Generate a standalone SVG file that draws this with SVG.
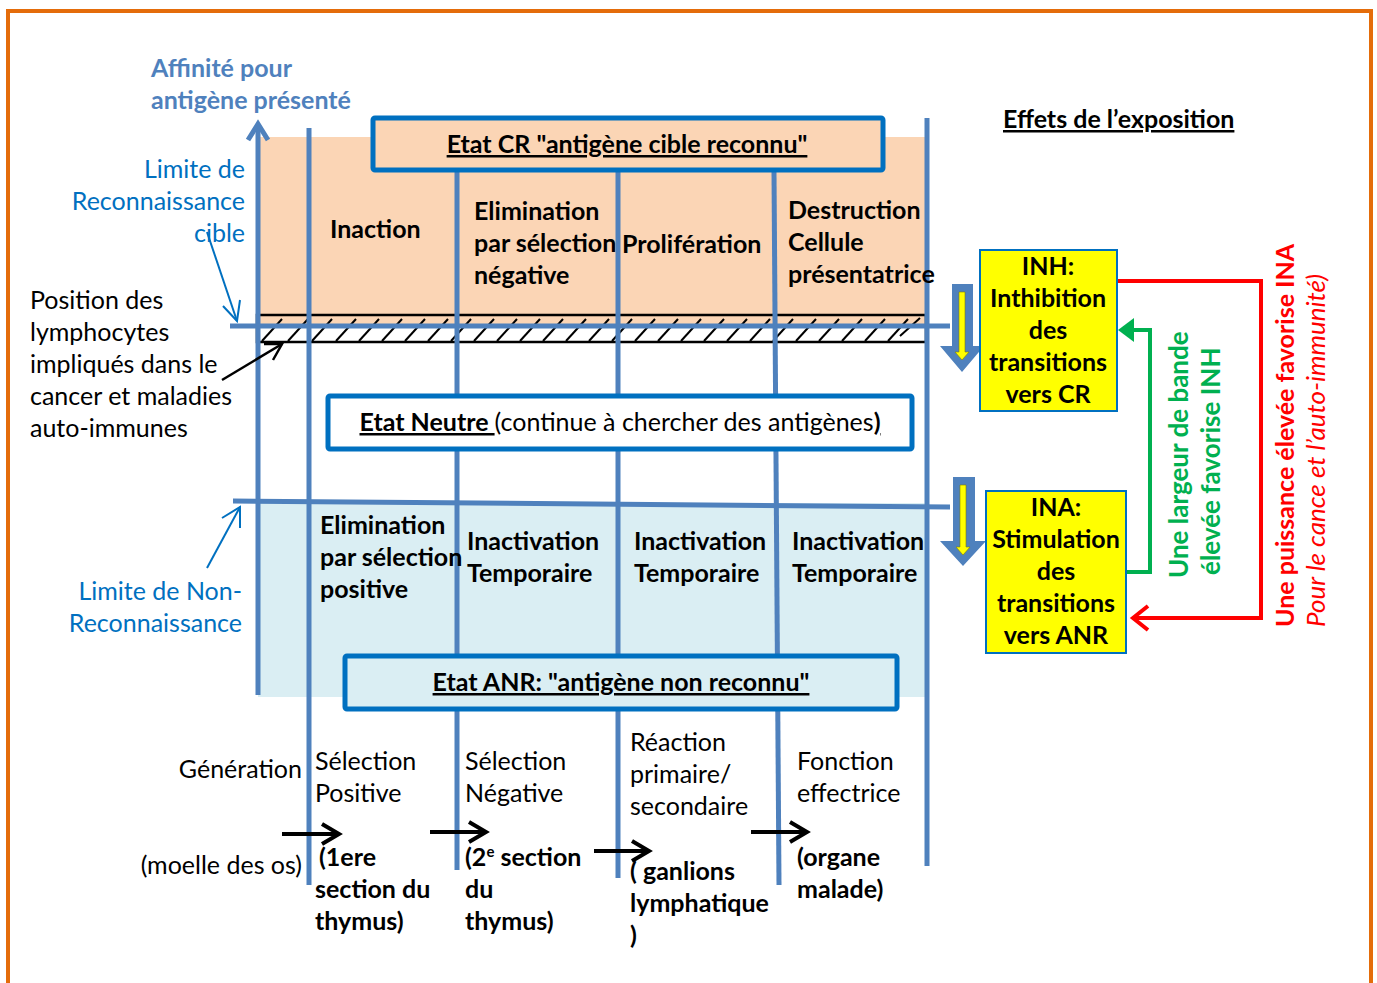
<svg xmlns="http://www.w3.org/2000/svg" width="1377" height="983" viewBox="0 0 1377 983">
<defs>
<style>
text{font-family:Lato,"Liberation Sans",sans-serif;}
.b{font-weight:bold;}
.lbl{font-size:25px;fill:#000;}
.ax{font-size:25px;fill:#0070C0;}
.vl{stroke:#4F81BD;stroke-width:5;fill:none;}
.box{stroke:#0070C0;stroke-width:5;}
.u{text-decoration:underline;}
.hatch line{stroke:#000;stroke-width:2;}
</style>
</defs>
<rect x="0" y="0" width="1377" height="983" fill="#fff"/>
<rect x="8" y="11" width="1363" height="990" fill="none" stroke="#E46C0A" stroke-width="4"/>

<!-- zones -->
<rect x="258" y="137" width="668" height="189" fill="#FBD5B5"/>
<rect x="258" y="503" width="668" height="194" fill="#DAEEF3"/>

<!-- hatched band -->
<g id="band">
<rect x="257" y="315" width="669" height="27" fill="none" stroke="#000" stroke-width="2.5"/>
<g class="hatch">
<line x1="262" y1="341" x2="282" y2="319"/><line x1="288" y1="341" x2="308" y2="319"/><line x1="312" y1="341" x2="332" y2="319"/><line x1="336" y1="341" x2="356" y2="319"/><line x1="359" y1="341" x2="379" y2="319"/><line x1="382" y1="341" x2="402" y2="319"/><line x1="405" y1="341" x2="425" y2="319"/><line x1="428" y1="341" x2="448" y2="319"/><line x1="451" y1="341" x2="471" y2="319"/><line x1="474" y1="341" x2="494" y2="319"/><line x1="497" y1="341" x2="517" y2="319"/><line x1="520" y1="341" x2="540" y2="319"/><line x1="543" y1="341" x2="563" y2="319"/><line x1="566" y1="341" x2="586" y2="319"/><line x1="589" y1="341" x2="609" y2="319"/><line x1="612" y1="341" x2="632" y2="319"/><line x1="635" y1="341" x2="655" y2="319"/><line x1="658" y1="341" x2="678" y2="319"/><line x1="681" y1="341" x2="701" y2="319"/><line x1="704" y1="341" x2="724" y2="319"/><line x1="727" y1="341" x2="747" y2="319"/><line x1="750" y1="341" x2="770" y2="319"/><line x1="773" y1="341" x2="793" y2="319"/><line x1="796" y1="341" x2="816" y2="319"/><line x1="819" y1="341" x2="839" y2="319"/><line x1="842" y1="341" x2="862" y2="319"/><line x1="865" y1="341" x2="885" y2="319"/><line x1="888" y1="341" x2="908" y2="319"/><line x1="900" y1="336" x2="920" y2="318"/>
</g>
</g>

<g id="connectors">
<line class="vl" x1="258" y1="695" x2="258" y2="124"/>
<polyline class="vl" points="248,140 258,124 268,140" stroke-linejoin="miter"/>
<line class="vl" x1="309" y1="128" x2="309" y2="885"/>
<line class="vl" x1="457" y1="172" x2="457" y2="870"/>
<line class="vl" x1="618" y1="172" x2="618" y2="878"/>
<line class="vl" x1="774" y1="172" x2="779" y2="885"/>
<line class="vl" x1="927" y1="118" x2="927" y2="866"/>
<line class="vl" x1="230" y1="326" x2="950" y2="326"/>
<line class="vl" x1="233" y1="501" x2="950" y2="507"/>

<g stroke="#0070C0" stroke-width="2" fill="none">
<line x1="207" y1="232" x2="237" y2="321"/>
<polyline points="223,306 237,321 240,300"/>
<line x1="207" y1="568" x2="240" y2="507"/>
<polyline points="222,518 240,507 240,528"/>
</g>
<g stroke="#000" stroke-width="2.5" fill="none">
<line x1="222" y1="380" x2="282" y2="344"/>
<polyline points="264,344 282,344 273,360"/>
</g>

<g stroke="#000" stroke-width="4" fill="none">
<line x1="282" y1="834" x2="338" y2="834"/><polyline points="322,824 339,834 322,844"/>
<line x1="430" y1="832" x2="485" y2="832"/><polyline points="469,822 486,832 469,842"/>
<line x1="594" y1="851" x2="648" y2="851"/><polyline points="632,841 649,851 632,861"/>
<line x1="751" y1="832" x2="806" y2="832"/><polyline points="790,822 807,832 790,842"/>
</g>

<polyline points="1126,572 1150,572 1150,330 1132,330" fill="none" stroke="#00B050" stroke-width="4"/>
<polygon points="1118,330 1134,318 1134,342" fill="#00B050"/>
<polyline points="1117,281 1261,281 1261,618 1134,618" fill="none" stroke="#FF0000" stroke-width="4"/>
<polyline points="1148,606 1133,618 1148,630" fill="none" stroke="#FF0000" stroke-width="4"/>
</g>

<g id="down1">
<polygon points="952,284 973,284 973,346 984,346 962,372 940,346 952,346" fill="#4F81BD"/>
<polygon points="959,292 965,292 965,352 969,352 962,360 955,352 959,352" fill="#FFFF00" stroke="#7F7F00" stroke-width="0.6"/>
</g>
<g id="down2">
<polygon points="953,477 975,477 975,541 986,541 963,566 940,541 953,541" fill="#4F81BD"/>
<polygon points="960,485 966,485 966,547 970,547 963,555 956,547 960,547" fill="#FFFF00" stroke="#7F7F00" stroke-width="0.6"/>
</g>

<g id="cr">
<rect class="box" x="373" y="118" width="510" height="52" rx="2" fill="#FBD5B5"/>
<text class="lbl b u" x="627" y="153" text-anchor="middle">Etat CR "antigène cible reconnu"</text>
</g>
<g id="neutre">
<rect class="box" x="328" y="396" width="584" height="53" rx="2" fill="#fff"/>
<text class="lbl" x="620" y="431" text-anchor="middle"><tspan class="b u">Etat Neutre </tspan>(continue à chercher des antigènes<tspan class="b u">)</tspan></text>
</g>
<g id="anr">
<rect class="box" x="345" y="656" width="552" height="53" rx="2" fill="#DAEEF3"/>
<text class="lbl b u" x="621" y="691" text-anchor="middle">Etat ANR: "antigène non reconnu"</text>
</g>

<g id="axis-label">
<text class="b" font-size="25" fill="#4F81BD" x="151" y="77">Affinité pour</text>
<text class="b" font-size="25" fill="#4F81BD" x="151" y="109">antigène présenté</text>
</g>
<g id="lim-cr">
<text class="ax" x="245" y="178" text-anchor="end">Limite de</text>
<text class="ax" x="245" y="210" text-anchor="end">Reconnaissance</text>
<text class="ax" x="245" y="242" text-anchor="end">cible</text>
</g>
<g id="lim-anr">
<text class="ax" x="242" y="600" text-anchor="end">Limite de Non-</text>
<text class="ax" x="242" y="632" text-anchor="end">Reconnaissance</text>
</g>
<g id="position">
<text class="lbl" x="30" y="309">Position des</text>
<text class="lbl" x="30" y="341">lymphocytes</text>
<text class="lbl" x="30" y="373">impliqués dans le</text>
<text class="lbl" x="30" y="405">cancer et maladies</text>
<text class="lbl" x="30" y="437">auto-immunes</text>
</g>

<g id="inaction"><text class="lbl b" x="330" y="238">Inaction</text></g>
<g id="elim-neg">
<text class="lbl b" x="474" y="220">Elimination</text>
<text class="lbl b" x="474" y="252">par sélection</text>
<text class="lbl b" x="474" y="284">négative</text>
</g>
<g id="prolif"><text class="lbl b" x="622" y="253">Prolifération</text></g>
<g id="destr">
<text class="lbl b" x="788" y="219">Destruction</text>
<text class="lbl b" x="788" y="251">Cellule</text>
<text class="lbl b" x="788" y="283">présentatrice</text>
</g>

<g id="elim-pos">
<text class="lbl b" x="320" y="534">Elimination</text>
<text class="lbl b" x="320" y="566">par sélection</text>
<text class="lbl b" x="320" y="598">positive</text>
</g>
<g id="inact1"><text class="lbl b" x="467" y="550">Inactivation</text><text class="lbl b" x="467" y="582">Temporaire</text></g>
<g id="inact2"><text class="lbl b" x="634" y="550">Inactivation</text><text class="lbl b" x="634" y="582">Temporaire</text></g>
<g id="inact3"><text class="lbl b" x="792" y="550">Inactivation</text><text class="lbl b" x="792" y="582">Temporaire</text></g>

<g id="gen">
<text class="lbl" x="302" y="778" text-anchor="end">Génération</text>
<text class="lbl" x="302" y="874" text-anchor="end">(moelle des os)</text>
</g>
<g id="selpos">
<text class="lbl" x="315" y="770">Sélection</text>
<text class="lbl" x="315" y="802">Positive</text>
<text class="lbl b" x="319" y="866">(1ere</text>
<text class="lbl b" x="315" y="898">section du</text>
<text class="lbl b" x="315" y="930">thymus)</text>
</g>
<g id="selneg">
<text class="lbl" x="465" y="770">Sélection</text>
<text class="lbl" x="465" y="802">Négative</text>
<text class="lbl b" x="465" y="866">(2<tspan font-size="15" dy="-9">e</tspan><tspan dy="9"> section</tspan></text>
<text class="lbl b" x="465" y="898">du</text>
<text class="lbl b" x="465" y="930">thymus)</text>
</g>
<g id="reaction">
<text class="lbl" x="630" y="751">Réaction</text>
<text class="lbl" x="630" y="783">primaire/</text>
<text class="lbl" x="630" y="815">secondaire</text>
<text class="lbl b" x="630" y="880">( ganlions</text>
<text class="lbl b" x="630" y="912">lymphatique</text>
<text class="lbl b" x="630" y="944">)</text>
</g>
<g id="fonction">
<text class="lbl" x="797" y="770">Fonction</text>
<text class="lbl" x="797" y="802">effectrice</text>
<text class="lbl b" x="797" y="866">(organe</text>
<text class="lbl b" x="797" y="898">malade)</text>
</g>

<g id="effets"><text class="lbl b u" x="1003" y="128">Effets de l’exposition</text></g>
<g id="inh">
<rect x="980" y="250" width="137" height="161" fill="#FFFF00" stroke="#0070C0" stroke-width="2"/>
<text class="lbl b" text-anchor="middle" x="1048" y="275">INH:</text>
<text class="lbl b" text-anchor="middle" x="1048" y="307">Inthibition</text>
<text class="lbl b" text-anchor="middle" x="1048" y="339">des</text>
<text class="lbl b" text-anchor="middle" x="1048" y="371">transitions</text>
<text class="lbl b" text-anchor="middle" x="1048" y="403">vers CR</text>
</g>
<g id="ina">
<rect x="986" y="491" width="140" height="162" fill="#FFFF00" stroke="#0070C0" stroke-width="2"/>
<text class="lbl b" text-anchor="middle" x="1056" y="516">INA:</text>
<text class="lbl b" text-anchor="middle" x="1056" y="548">Stimulation</text>
<text class="lbl b" text-anchor="middle" x="1056" y="580">des</text>
<text class="lbl b" text-anchor="middle" x="1056" y="612">transitions</text>
<text class="lbl b" text-anchor="middle" x="1056" y="644">vers ANR</text>
</g>
<g id="green-label" fill="#00B050" font-size="26">
<text class="b" transform="translate(1188,578) rotate(-90)">Une largeur de bande</text>
<text class="b" transform="translate(1220,575) rotate(-90)">élevée favorise INH</text>
</g>
<g id="red-label" fill="#FF0000">
<text class="b" font-size="25" transform="translate(1294,627) rotate(-90)">Une puissance élevée favorise INA</text>
<text font-style="italic" font-size="26" transform="translate(1325,627) rotate(-90)">Pour le cance et l’auto-immunité)</text>
</g>
</svg>
